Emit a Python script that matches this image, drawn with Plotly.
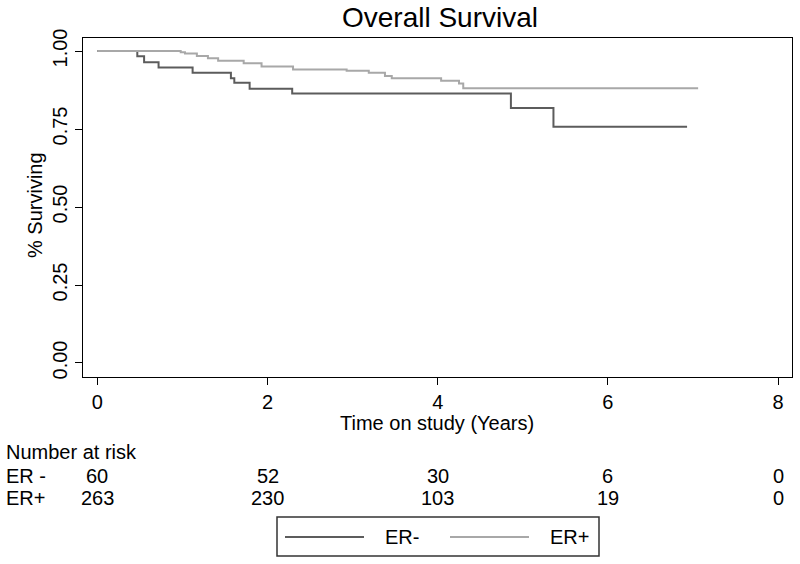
import plotly.graph_objects as go

# ---- data ----
er_neg_t = [0, 0.47, 0.55, 0.72, 1.12, 1.57, 1.61, 1.79, 2.29, 4.86, 5.36, 6.93]
er_neg_s = [1.0, 0.983, 0.964, 0.947, 0.930, 0.913, 0.898, 0.879, 0.864, 0.817, 0.757, 0.757]

er_pos_t = [0, 0.98, 1.03, 1.17, 1.30, 1.42, 1.72, 1.93, 2.30, 2.93, 3.19, 3.38, 3.46, 4.04, 4.25, 4.30, 7.06]
er_pos_s = [1.0, 0.996, 0.992, 0.984, 0.977, 0.969, 0.961, 0.950, 0.941, 0.937, 0.930, 0.920, 0.913, 0.905, 0.896, 0.881, 0.881]

risk_times = [0, 2, 4, 6, 8]
risk_er_neg = [60, 52, 30, 6, 0]
risk_er_pos = [263, 230, 103, 19, 0]

x_ticks = [0, 2, 4, 6, 8]
y_ticks = [0, 0.25, 0.5, 0.75, 1.0]
y_ticklabels = ["0.00", "0.25", "0.50", "0.75", "1.00"]

COL_NEG = "#5c5c5c"
COL_POS = "#a8a8a8"
FONT = "Liberation Sans, Arial, sans-serif"

W, H = 800, 564
L, R, T, B = 83, 8, 38, 187
PW, PH = W - L - R, H - T - B


def px_x(p):
    return (p - L) / PW


def px_y(p):
    return (H - B - p) / PH


fig = go.Figure()
fig.add_trace(go.Scatter(x=er_neg_t, y=er_neg_s, mode="lines", line=dict(shape="hv", color=COL_NEG, width=2),
                         name="ER-", showlegend=False))
fig.add_trace(go.Scatter(x=er_pos_t, y=er_pos_s, mode="lines", line=dict(shape="hv", color=COL_POS, width=2),
                         name="ER+", showlegend=False))

annotations = []
# y title
annotations.append(dict(text="% Surviving", x=px_x(35), y=px_y(205), xref="paper", yref="paper",
                        textangle=-90, showarrow=False, xanchor="center", yanchor="middle",
                        font=dict(size=20, color="black", family=FONT)))
# x title
annotations.append(dict(text="Time on study (Years)", x=px_x(437), y=px_y(423), xref="paper", yref="paper",
                        showarrow=False, xanchor="center", yanchor="middle",
                        font=dict(size=20, color="black", family=FONT)))
# risk table
annotations.append(dict(text="Number at risk", x=px_x(4), y=px_y(452), xref="paper", yref="paper",
                        showarrow=False, xanchor="left", yanchor="middle",
                        font=dict(size=20, color="black", family=FONT)))
annotations.append(dict(text="ER -", x=px_x(4), y=px_y(476), xref="paper", yref="paper",
                        showarrow=False, xanchor="left", yanchor="middle",
                        font=dict(size=20, color="black", family=FONT)))
annotations.append(dict(text="ER+", x=px_x(4), y=px_y(498), xref="paper", yref="paper",
                        showarrow=False, xanchor="left", yanchor="middle",
                        font=dict(size=20, color="black", family=FONT)))
for t, n in zip(risk_times, risk_er_neg):
    annotations.append(dict(text=str(n), x=t, y=px_y(476), xref="x", yref="paper", showarrow=False,
                            xanchor="center", yanchor="middle", font=dict(size=20, color="black", family=FONT)))
for t, n in zip(risk_times, risk_er_pos):
    annotations.append(dict(text=str(n), x=t, y=px_y(498), xref="x", yref="paper", showarrow=False,
                            xanchor="center", yanchor="middle", font=dict(size=20, color="black", family=FONT)))

# custom legend
shapes = [
    dict(type="rect", xref="paper", yref="paper", x0=px_x(277), x1=px_x(599), y0=px_y(517), y1=px_y(556),
         line=dict(color="#333333", width=1.5), fillcolor="white"),
    dict(type="line", xref="paper", yref="paper", x0=px_x(285), x1=px_x(364), y0=px_y(537), y1=px_y(537),
         line=dict(color=COL_NEG, width=2)),
    dict(type="line", xref="paper", yref="paper", x0=px_x(450), x1=px_x(529), y0=px_y(537), y1=px_y(537),
         line=dict(color=COL_POS, width=2)),
]
annotations.append(dict(text="ER-", x=px_x(383), y=px_y(537), xref="paper", yref="paper", showarrow=False,
                        xanchor="left", yanchor="middle", font=dict(size=20, color="black", family=FONT)))
annotations.append(dict(text="ER+", x=px_x(548), y=px_y(537), xref="paper", yref="paper", showarrow=False,
                        xanchor="left", yanchor="middle", font=dict(size=20, color="black", family=FONT)))

fig.update_layout(
    width=W, height=H,
    margin=dict(l=L, r=R, t=T, b=B, pad=0),
    paper_bgcolor="white", plot_bgcolor="white",
    title=dict(text="Overall Survival", x=440 / W, xanchor="center",
               y=1 - 17 / H, yanchor="middle", font=dict(size=28, color="black", family=FONT)),
    font=dict(family=FONT, color="black", size=20),
    showlegend=False,
    annotations=annotations,
    shapes=shapes,
)
fig.update_xaxes(range=[-0.168, 8.163], tickvals=x_ticks, ticktext=[str(v) for v in x_ticks],
                 showgrid=False, zeroline=False, showline=True, linecolor="black", linewidth=1.2, mirror=True,
                 ticks="outside", ticklen=7, tickcolor="black", tickwidth=1.2,
                 tickfont=dict(size=20, family=FONT, color="black"))
fig.update_yaxes(range=[-0.0449, 1.0417], tickvals=y_ticks, ticktext=y_ticklabels,
                 showgrid=False, zeroline=False, showline=True, linecolor="black", linewidth=1.2, mirror=True,
                 ticks="outside", ticklen=7, tickcolor="black", tickwidth=1.2, tickangle=-90,
                 tickfont=dict(size=20, family=FONT, color="black"))

fig.write_html("out.html", config={"displayModeBar": False},
               post_script="document.body.style.margin='0';document.body.style.overflow='hidden';")
